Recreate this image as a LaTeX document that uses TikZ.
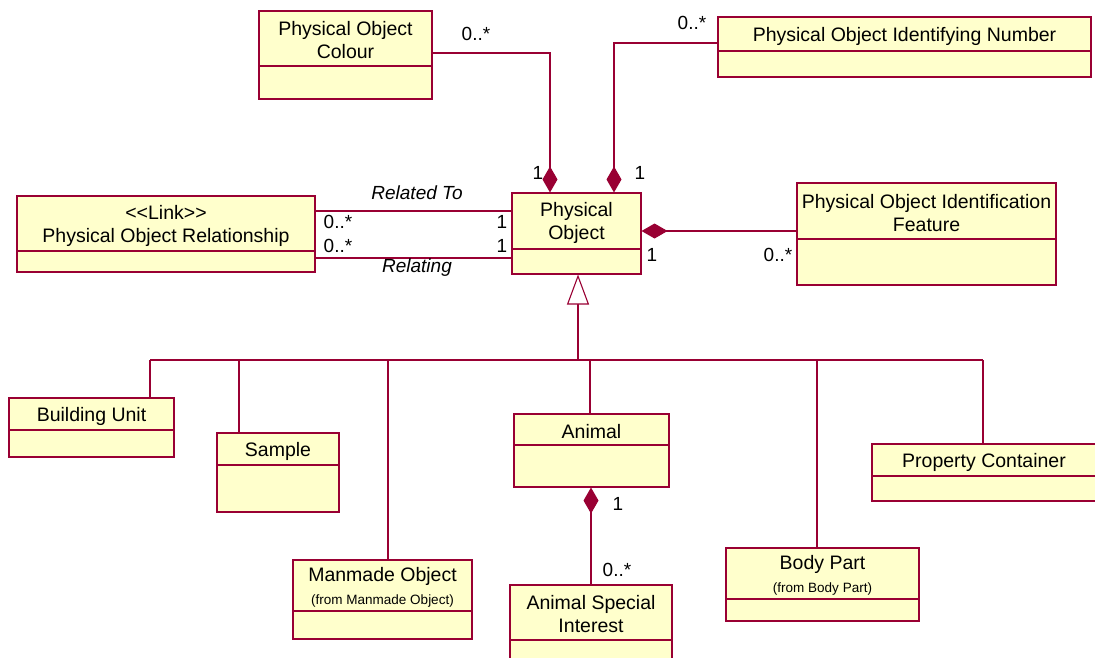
\documentclass[tikz,border=0pt]{standalone}
\usepackage{fontspec}
\setmainfont{Liberation Sans}
\usetikzlibrary{arrows.meta,fit}
\definecolor{umlred}{RGB}{153,0,51}
\definecolor{umlfill}{RGB}{255,255,204}
\tikzset{
 cls/.style={draw=umlred, fill=umlfill, line width=1.1pt, inner sep=0pt},
 divline/.style={draw=umlred, line width=1.1pt},
 conn/.style={draw=umlred, line width=1.1pt},
 txt/.style={font=\fontsize{19.5}{23}\selectfont, align=center, inner sep=0pt, text=black},
 lbl/.style={font=\fontsize{19}{20}\selectfont, inner sep=0pt, text=black},
 rolelbl/.style={lbl, font=\fontsize{19}{20}\selectfont\itshape},
 comp/.style={conn, -{Diamond[length=26pt,width=15pt,fill=umlred]}},
 gen/.style={conn, -{Triangle[length=30pt,width=22pt,fill=white]}},
}
\newcommand{\smalltxt}{\fontsize{13.5}{15}\selectfont}
\newcommand{\umlbox}[7]{%
 \node[cls, fit={(#2,#3) (#4,#5)}] (#1) {};
 \draw[divline] (#2,#6) -- (#4,#6);
 \node[txt] (#1-t) at ({(#2+#4)/2},{(#3+#6)/2+2}) {#7};
}
\begin{document}
\begin{tikzpicture}[x=1pt,y=-1pt]
\useasboundingbox (0,0) rectangle (1095,657);
% classes
\umlbox{col}{259}{11}{432}{99}{66}{Physical Object\\Colour}
\umlbox{idn}{718}{17}{1091}{77}{51}{Physical Object Identifying Number}
\umlbox{rel}{17}{196}{315}{272}{251}{{<}{<}Link{>}{>}\\Physical Object Relationship}
\umlbox{po}{512}{193}{641}{274}{249}{Physical\\Object}
\umlbox{idf}{797}{183}{1056}{285}{239}{Physical Object Identification\\Feature}
\umlbox{bu}{9}{398}{174}{457}{430}{Building Unit}
\umlbox{sam}{217}{433}{339}{512}{465}{Sample}
\umlbox{mmo}{293}{560}{472}{639}{611}{Manmade Object\\{\smalltxt (from Manmade Object)}}
\umlbox{ani}{514}{414}{669}{487}{445}{Animal}
\umlbox{asi}{510}{585}{672}{680}{640}{Animal Special\\Interest}
\umlbox{bp}{726}{548}{919}{621}{599}{Body Part\\{\smalltxt (from Body Part)}}
\umlbox{pc}{872}{444}{1096}{501}{476}{Property Container}
% compositions
\draw[comp] ([yshift=2pt]col.east) -| ([xshift=-26.5pt]po.north);
\draw[comp] ([yshift=4pt]idn.west) -| ([xshift=37.5pt]po.north);
\draw[comp] ([yshift=3pt]idf.west) -- ([yshift=3pt]idf.west -| po.east);
\draw[comp] (asi.north) -- (asi.north |- ani.south);
% associations
\draw[conn] ([yshift=23pt]rel.east) -- ([yshift=23pt]rel.east -| po.west);
\draw[conn] ([yshift=-24pt]rel.east) -- ([yshift=-24pt]rel.east -| po.west);
% generalization
\coordinate (hub) at (578,360);
\coordinate (barL) at (150,360);
\coordinate (barR) at (983,360);
\draw[gen] (hub) -- (hub |- po.south);
\draw[conn] (barL) -- (barR);
\draw[conn] ([xshift=58.5pt]bu.north) -- ([xshift=58.5pt]bu.north |- hub);
\draw[conn] ([xshift=-39pt]sam.north) -- ([xshift=-39pt]sam.north |- hub);
\draw[conn] ([xshift=5.5pt]mmo.north) -- ([xshift=5.5pt]mmo.north |- hub);
\draw[conn] ([xshift=-1.5pt]ani.north) -- ([xshift=-1.5pt]ani.north |- hub);
\draw[conn] ([xshift=-5.5pt]bp.north) -- ([xshift=-5.5pt]bp.north |- hub);
\draw[conn] ([xshift=-1pt]pc.north) -- ([xshift=-1pt]pc.north |- hub);
% multiplicities and role names
\node[lbl] (m1) at (476,34) {0..*};
\node[lbl] (m2) at (538,173) {1};
\node[lbl] (m3) at (692,23) {0..*};
\node[lbl] (m4) at (640,173) {1};
\node[rolelbl] (r1) at (417,193) {Related To};
\node[lbl] (m5) at (338,222) {0..*};
\node[lbl] (m6) at (502,222) {1};
\node[lbl] (m7) at (338,246) {0..*};
\node[lbl] (m8) at (502,246) {1};
\node[rolelbl] (r2) at (417,268) {Relating};
\node[lbl] (m9) at (652,255) {1};
\node[lbl] (m10) at (778,255) {0..*};
\node[lbl] (m11) at (618,504) {1};
\node[lbl] (m12) at (617,570) {0..*};
\end{tikzpicture}
\end{document}
